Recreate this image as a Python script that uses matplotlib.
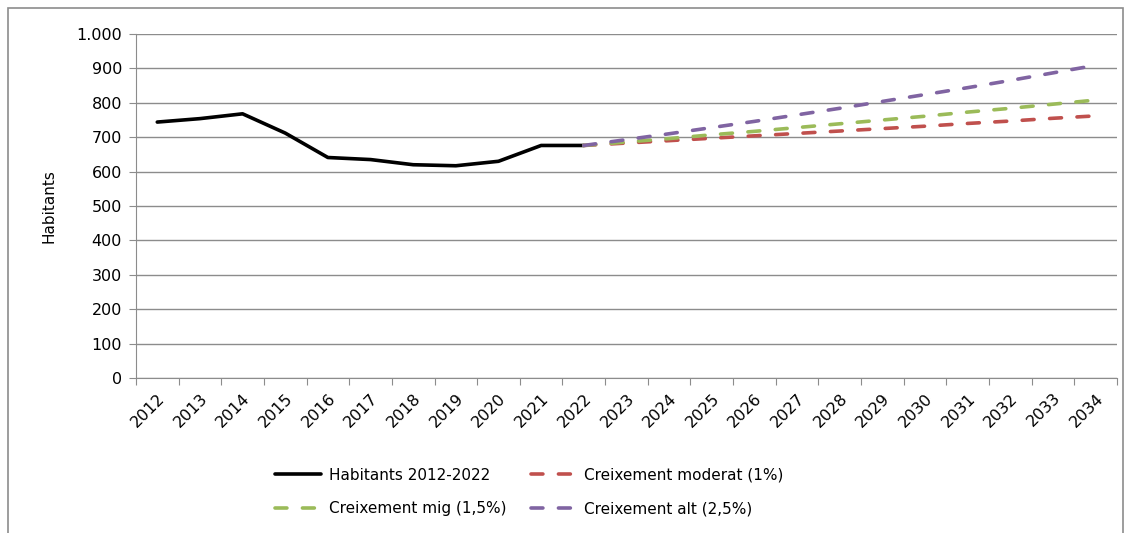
import matplotlib.pyplot as plt
from matplotlib.patches import Rectangle
from matplotlib.ticker import FuncFormatter, FixedLocator

years = [str(y) for y in range(2012, 2035)]
habitants = [744, 754, 768, 712, 641, 635, 620, 617, 630, 676, 676]
moderat = [676, 683, 690, 697, 704, 711, 718, 725, 732, 740, 747, 755, 762]
mig = [676, 686, 696, 707, 717, 728, 739, 750, 761, 773, 784, 796, 808]
alt = [676, 693, 710, 728, 746, 765, 784, 804, 824, 844, 865, 887, 909]

fig = plt.figure(figsize=(11.31, 5.33), dpi=100)
ax = fig.add_axes([0.1202, 0.2908, 0.8674, 0.6454])

x_hist = list(range(len(habitants)))
x_proj = list(range(len(habitants) - 1, len(years)))

dash = (3.3, 4.3)
ax.plot(x_hist, habitants, color='black', lw=2.6, solid_capstyle='round',
        label='Habitants 2012-2022', zorder=3)
ax.plot(x_proj, moderat, color='#C0504D', lw=2.6, dashes=dash,
        dash_capstyle='round', label='Creixement moderat (1%)', zorder=4)
ax.plot(x_proj, mig, color='#9BBB59', lw=2.6, dashes=dash,
        dash_capstyle='round', label='Creixement mig (1,5%)', zorder=5)
ax.plot(x_proj, alt, color='#8064A2', lw=2.6, dashes=dash,
        dash_capstyle='round', label='Creixement alt (2,5%)', zorder=6)

ax.set_xlim(-0.5, len(years) - 0.5)
ax.set_ylim(0, 1000)
ax.set_yticks(range(0, 1001, 100))
ax.yaxis.set_major_formatter(FuncFormatter(lambda v, p: f'{int(v):,}'.replace(',', '.')))
ax.grid(axis='y', color='#8c8c8c', lw=1)
ax.set_axisbelow(True)

ax.xaxis.set_major_locator(FixedLocator([i - 0.5 for i in range(len(years) + 1)]))
ax.xaxis.set_minor_locator(FixedLocator(range(len(years))))
ax.set_xticklabels([], minor=False)
ax.set_xticklabels(years, minor=True, rotation=45, ha='right', va='top',
                   rotation_mode='anchor', fontsize=11.5)
ax.tick_params(axis='x', which='major', length=5, color='#8c8c8c', direction='out')
ax.tick_params(axis='x', which='minor', length=0, pad=9)
ax.tick_params(axis='y', length=5, color='#8c8c8c', labelsize=11.5, pad=5)

for s in ['top', 'right']:
    ax.spines[s].set_visible(False)
for s in ['left', 'bottom']:
    ax.spines[s].set_color('#8c8c8c')

ax.set_ylabel('Habitants', fontsize=11, labelpad=14)

h, l = ax.get_legend_handles_labels()
order = [0, 2, 1, 3]
fig.legend([h[i] for i in order], [l[i] for i in order], ncol=2,
           loc='center', bbox_to_anchor=(0.468, 0.077), frameon=False,
           fontsize=11, handlelength=3.0, handletextpad=0.5,
           columnspacing=1.6, labelspacing=1.2)

fig.patches.append(Rectangle((8 / 1131, -0.01), 1115 / 1131, 1 - 8 / 533 + 0.01,
                             transform=fig.transFigure, fill=False,
                             edgecolor='#8c8c8c', lw=1.2))

fig.savefig('out.png', dpi=100)
